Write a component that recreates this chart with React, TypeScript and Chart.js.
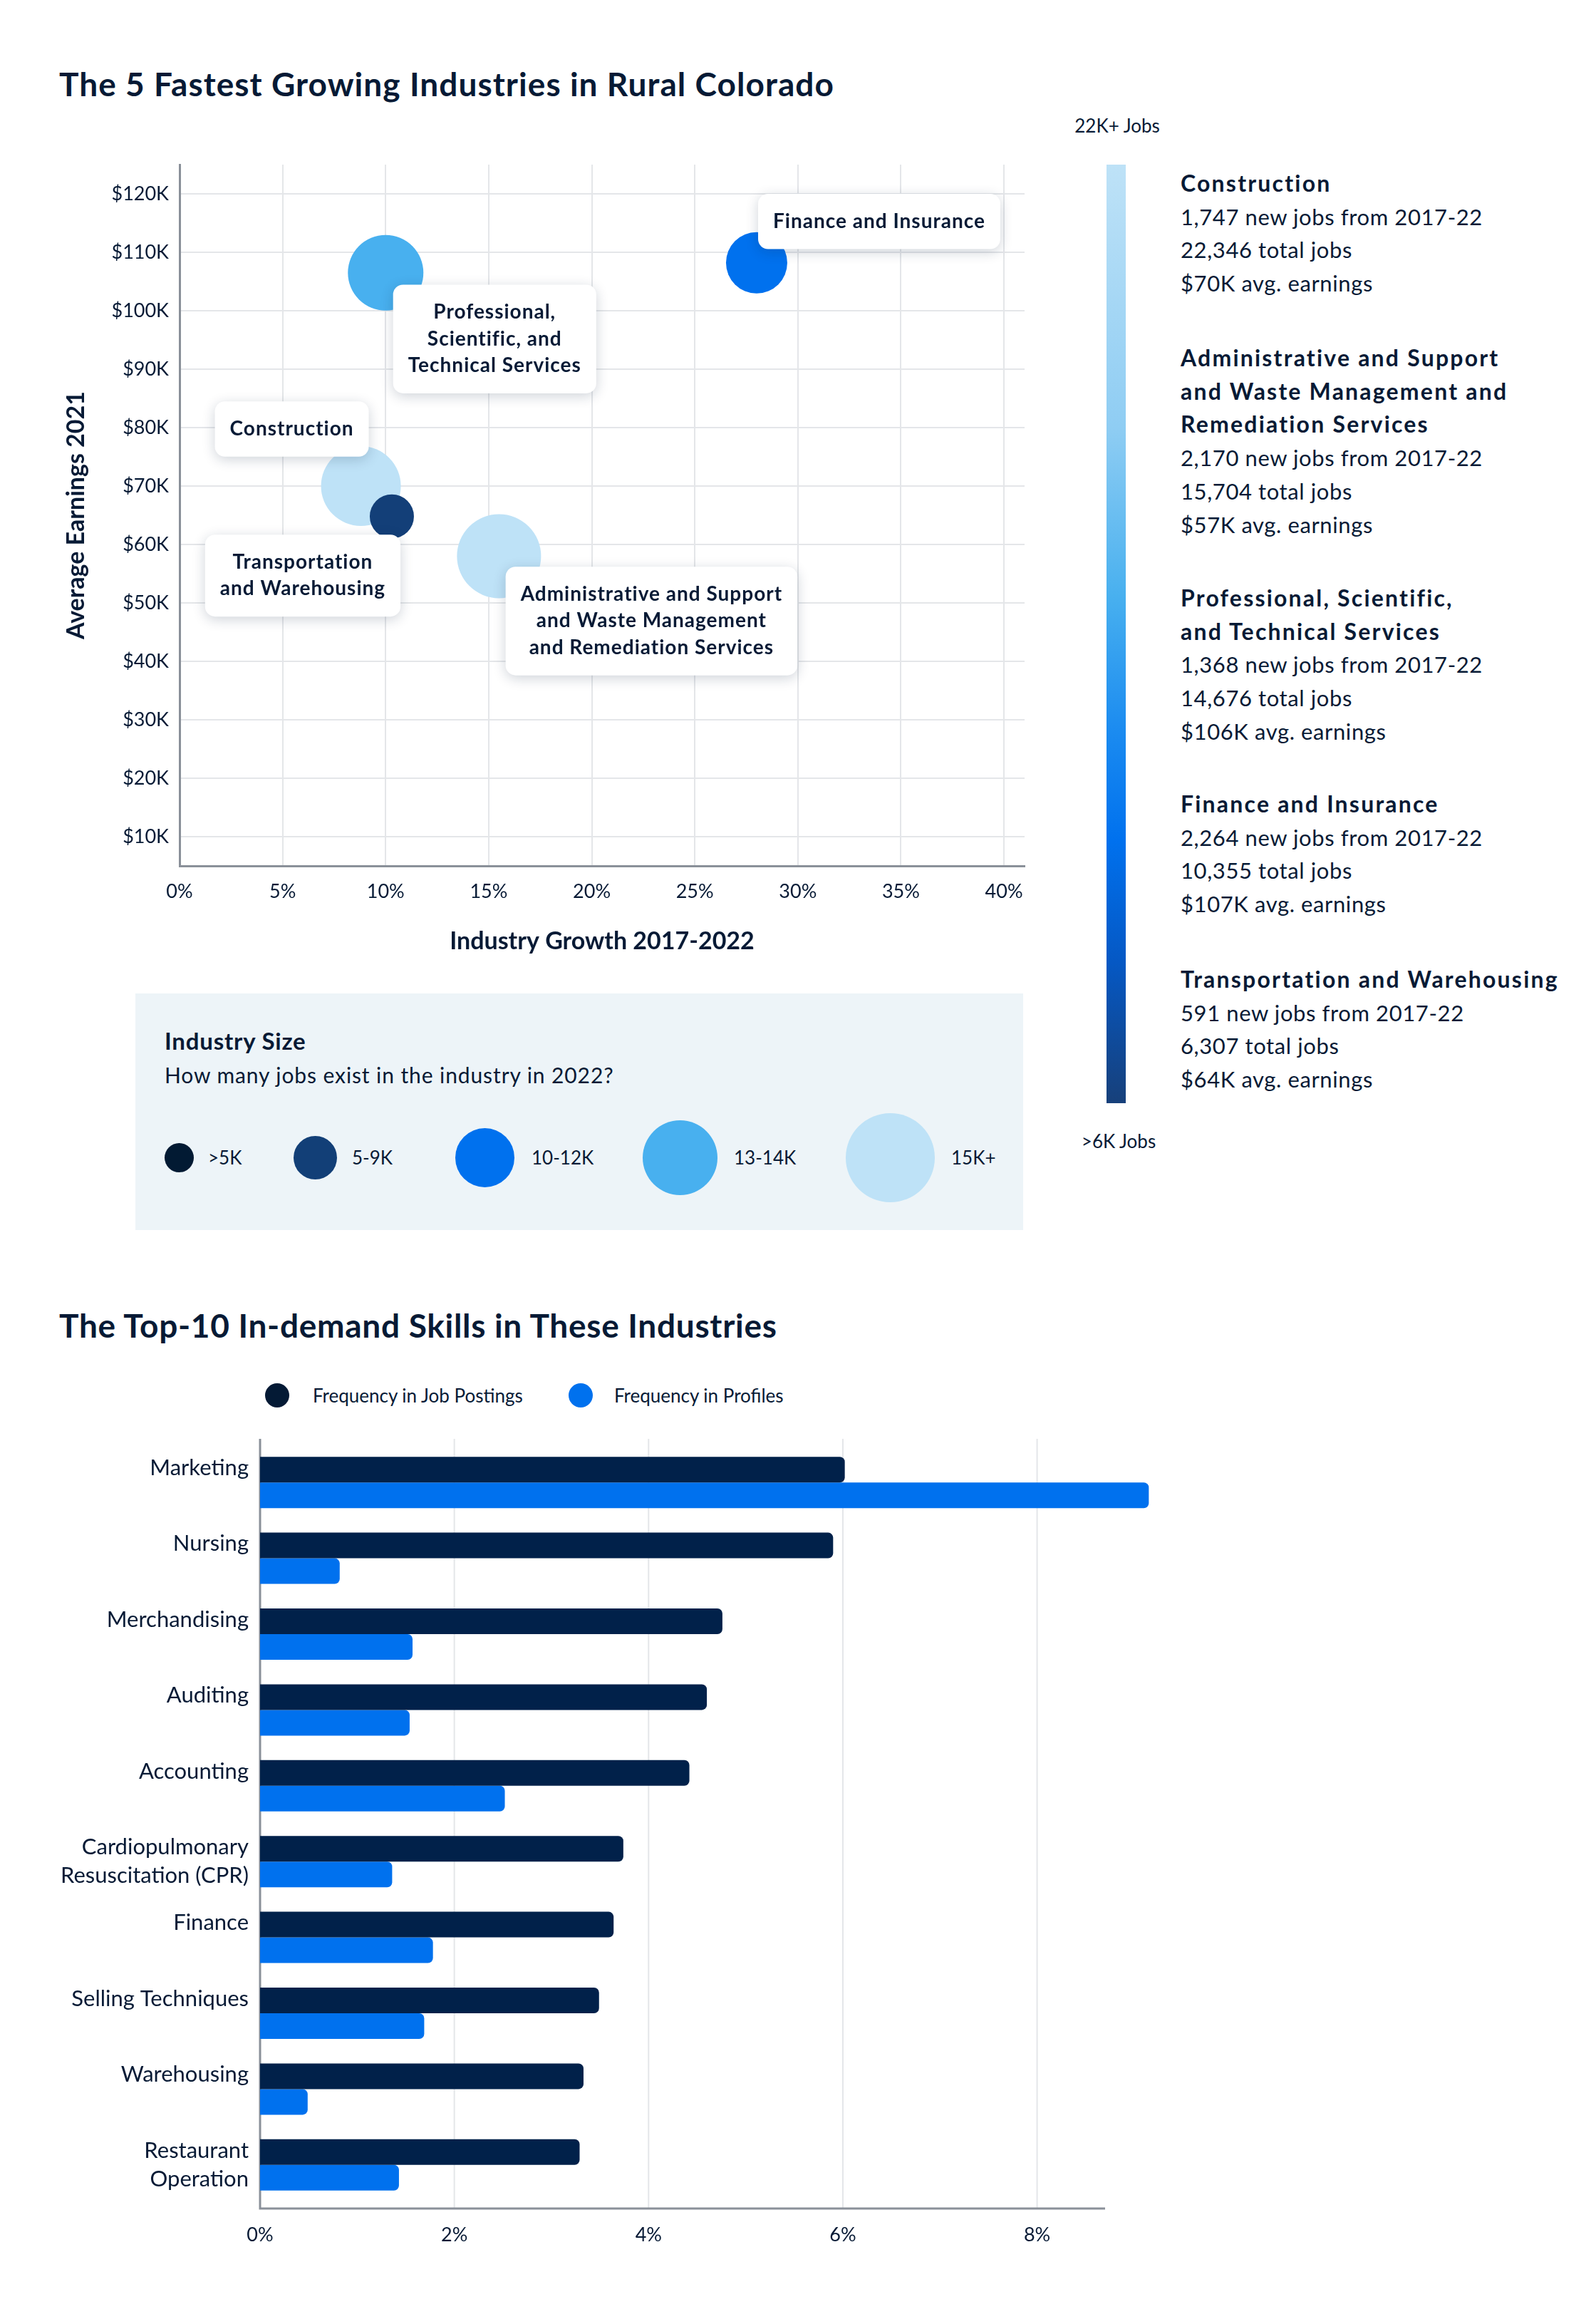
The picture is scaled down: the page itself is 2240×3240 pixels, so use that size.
import React, { useEffect, useRef } from 'react';
import { Chart, registerables } from 'chart.js';

Chart.register(...registerables);

// ---------------- DATA ----------------
const industries = [
  'Construction',
  'Administrative and Support and Waste Management and Remediation Services',
  'Professional, Scientific, and Technical Services',
  'Finance and Insurance',
  'Transportation and Warehousing',
];
const industryGrowthPct = [8.8, 15.5, 10.0, 28.0, 10.3];
const industryEarnings = [70000, 58000, 106500, 108200, 64800];
const newJobs = ['1,747', '2,170', '1,368', '2,264', '591'];
const totalJobs = ['22,346', '15,704', '14,676', '10,355', '6,307'];
const avgEarnings = ['$70K', '$57K', '$106K', '$107K', '$64K'];

const bubbleLabelLines = [
  ['Construction'],
  ['Administrative and Support', 'and Waste Management', 'and Remediation Services'],
  ['Professional,', 'Scientific, and', 'Technical Services'],
  ['Finance and Insurance'],
  ['Transportation', 'and Warehousing'],
];
const sideTitles = [
  ['Construction'],
  ['Administrative and Support', 'and Waste Management and', 'Remediation Services'],
  ['Professional, Scientific,', 'and Technical Services'],
  ['Finance and Insurance'],
  ['Transportation and Warehousing'],
];

const growthTicks = [0, 5, 10, 15, 20, 25, 30, 35, 40];
const earningsTicks = [10000, 20000, 30000, 40000, 50000, 60000, 70000, 80000, 90000, 100000, 110000, 120000];

const sizeBuckets = ['>5K', '5-9K', '10-12K', '13-14K', '15K+'];

const skills = [
  ['Marketing'],
  ['Nursing'],
  ['Merchandising'],
  ['Auditing'],
  ['Accounting'],
  ['Cardiopulmonary', 'Resuscitation (CPR)'],
  ['Finance'],
  ['Selling Techniques'],
  ['Warehousing'],
  ['Restaurant', 'Operation'],
];
const postingsFreq = [6.02, 5.9, 4.76, 4.6, 4.42, 3.74, 3.64, 3.49, 3.33, 3.29];
const profilesFreq = [9.15, 0.82, 1.57, 1.54, 2.52, 1.36, 1.78, 1.69, 0.49, 1.43];
const freqTicks = [0, 2, 4, 6, 8];

// ---------------- STYLE ----------------
const FONT = 'Lato, "Noto Sans", sans-serif';
const TEXT = '#071a35';
const GRID = '#e4e6e9';
const AXIS = '#8a9099';
const BUBBLE_COLORS = ['#bee2f7', '#bee2f7', '#48b0ef', '#0071ee', '#133f78'];
const BUBBLE_R = [56, 59, 53, 43, 31];
const LABEL_OFFSETS: [number, number][] = [
  [-97, -80],
  [214, 91],
  [153, 93],
  [172, -58],
  [-125, 83],
];
const BUCKET_COLORS = ['#021a33', '#123f77', '#0071ee', '#48b0ef', '#bee2f7'];
const BUCKET_R = [20.5, 30.5, 41.5, 52.5, 62.5];
const BUCKET_CX = [251, 442, 680, 954, 1249];
const BUCKET_TX = [292, 494, 746, 1030, 1335];
const DARK_BAR = '#01214a';
const BLUE_BAR = '#0071ee';
const AXIS_EXT = 8;

const bubbleLabelPlugin = {
  id: 'bubbleLabels',
  afterDatasetsDraw(chart: any) {
    const { ctx } = chart;
    const meta = chart.getDatasetMeta(0);
    const LH = 37.5;
    ctx.save();
    ctx.font = `bold 28px ${FONT}`;
    try {
      (ctx as any).letterSpacing = '1px';
    } catch (e) {}
    meta.data.forEach((pt: any, i: number) => {
      const lines = bubbleLabelLines[i];
      const off = LABEL_OFFSETS[i];
      const w = Math.max(...lines.map((l) => ctx.measureText(l).width)) + 42;
      const h = lines.length * LH + 40;
      const cx = pt.x + off[0];
      const cy = pt.y + off[1];
      ctx.save();
      ctx.shadowColor = 'rgba(16,36,66,0.20)';
      ctx.shadowBlur = 18;
      ctx.shadowOffsetY = 4;
      ctx.fillStyle = '#ffffff';
      ctx.beginPath();
      ctx.roundRect(cx - w / 2, cy - h / 2, w, h, 14);
      ctx.fill();
      ctx.restore();
      ctx.fillStyle = TEXT;
      ctx.textAlign = 'center';
      ctx.textBaseline = 'middle';
      lines.forEach((l, j) => {
        ctx.fillText(l, cx, cy - ((lines.length - 1) * LH) / 2 + j * LH);
      });
    });
    ctx.restore();
  },
};

// grid + axis lines for the bar chart, extended a little beyond the category band
const barAxesPlugin = {
  id: 'barAxes',
  beforeDatasetsDraw(chart: any) {
    const { ctx, chartArea: ca, scales } = chart;
    const x = scales.x;
    const top = ca.top - AXIS_EXT;
    const bottom = ca.bottom + AXIS_EXT;
    ctx.save();
    ctx.strokeStyle = GRID;
    ctx.lineWidth = 2;
    freqTicks.forEach((v) => {
      if (v === 0) return;
      const px = x.getPixelForValue(v);
      ctx.beginPath();
      ctx.moveTo(px, top);
      ctx.lineTo(px, bottom);
      ctx.stroke();
    });
    ctx.strokeStyle = AXIS;
    ctx.lineWidth = 3;
    ctx.beginPath();
    ctx.moveTo(ca.left, top);
    ctx.lineTo(ca.left, bottom);
    ctx.lineTo(ca.right, bottom);
    ctx.stroke();
    ctx.restore();
  },
};

function BubbleChart() {
  const ref = useRef<HTMLCanvasElement>(null);
  useEffect(() => {
    const chart = new Chart(ref.current as HTMLCanvasElement, {
      type: 'bubble',
      data: {
        datasets: [
          {
            data: industries.map((_, i) => ({ x: industryGrowthPct[i], y: industryEarnings[i], r: BUBBLE_R[i] })),
            backgroundColor: BUBBLE_COLORS,
            borderWidth: 0,
            hoverBorderWidth: 0,
            hoverRadius: 0,
            clip: false,
          } as any,
        ],
      },
      options: {
        responsive: false,
        animation: false,
        events: [],
        layout: { autoPadding: false, padding: { top: 31, right: 22, left: 0, bottom: 0 } },
        plugins: { legend: { display: false }, tooltip: { enabled: false } },
        scales: {
          x: {
            type: 'linear',
            min: 0,
            max: 41,
            afterBuildTicks: (axis: any) => {
              axis.ticks = growthTicks.map((v) => ({ value: v }));
            },
            afterFit: (s: any) => {
              s.height = 145;
              s.paddingLeft = 0;
              s.paddingRight = 0;
            },
            grid: { color: GRID, lineWidth: 2, drawTicks: false },
            border: { color: AXIS, width: 3 },
            ticks: {
              padding: 20,
              color: TEXT,
              font: { family: FONT, size: 27 },
              callback: (v: any) => `${v}%`,
              maxRotation: 0,
            },
            title: {
              display: true,
              text: 'Industry Growth 2017-2022',
              color: TEXT,
              font: { family: FONT, size: 34, weight: 'bold' },
              padding: { top: 0, bottom: 19 },
            },
          },
          y: {
            type: 'linear',
            min: 5000,
            max: 125000,
            afterBuildTicks: (axis: any) => {
              axis.ticks = earningsTicks.map((v) => ({ value: v }));
            },
            afterFit: (s: any) => {
              s.width = 212;
              s.paddingTop = 0;
              s.paddingBottom = 0;
            },
            grid: { color: GRID, lineWidth: 2, drawTicks: false },
            border: { color: AXIS, width: 3 },
            ticks: {
              padding: 15,
              color: TEXT,
              font: { family: FONT, size: 27 },
              callback: (v: any) => `$${Math.round(Number(v) / 1000)}K`,
            },
            title: {
              display: true,
              text: 'Average Earnings 2021',
              color: TEXT,
              font: { family: FONT, size: 34, weight: 'bold' },
              padding: { top: 47, bottom: 0 },
            },
          },
        },
      },
      plugins: [bubbleLabelPlugin],
    } as any);
    return () => chart.destroy();
  }, []);
  return (
    <canvas
      ref={ref}
      width={1420}
      height={1160}
      style={{ position: 'absolute', left: 40, top: 200, width: 1420, height: 1160 }}
    />
  );
}

function SkillsChart() {
  const ref = useRef<HTMLCanvasElement>(null);
  useEffect(() => {
    const chart = new Chart(ref.current as HTMLCanvasElement, {
      type: 'bar',
      data: {
        labels: skills.map((s) => (s.length === 1 ? [s[0], ''] : s)),
        datasets: [
          {
            label: 'Frequency in Job Postings',
            data: postingsFreq,
            backgroundColor: DARK_BAR,
            borderRadius: 7,
            borderSkipped: 'start',
            categoryPercentage: 0.6767,
            barPercentage: 1,
            clip: false,
          } as any,
          {
            label: 'Frequency in Profiles',
            data: profilesFreq,
            backgroundColor: BLUE_BAR,
            borderRadius: 7,
            borderSkipped: 'start',
            categoryPercentage: 0.6767,
            barPercentage: 1,
            clip: false,
          } as any,
        ],
      },
      options: {
        indexAxis: 'y',
        responsive: false,
        animation: false,
        events: [],
        layout: { autoPadding: false, padding: { top: 27, right: 89, left: 0, bottom: 0 } },
        plugins: { legend: { display: false }, tooltip: { enabled: false } },
        scales: {
          x: {
            type: 'linear',
            min: 0,
            max: 8.7,
            afterBuildTicks: (axis: any) => {
              axis.ticks = freqTicks.map((v) => ({ value: v }));
            },
            afterFit: (s: any) => {
              s.height = 109;
              s.paddingLeft = 0;
              s.paddingRight = 0;
            },
            grid: { display: false, drawTicks: false },
            border: { display: false },
            ticks: {
              padding: 29,
              color: TEXT,
              font: { family: FONT, size: 27 },
              callback: (v: any) => `${v}%`,
              maxRotation: 0,
            },
          },
          y: {
            afterFit: (s: any) => {
              s.width = 325;
              s.paddingTop = 0;
              s.paddingBottom = 0;
            },
            grid: { display: false, drawTicks: false },
            border: { display: false },
            ticks: {
              padding: 16,
              color: TEXT,
              font: { family: FONT, size: 31, lineHeight: 1.3 },
              autoSkip: false,
            },
          },
        },
      },
      plugins: [barAxesPlugin],
    } as any);
    return () => chart.destroy();
  }, []);
  return (
    <canvas
      ref={ref}
      width={1600}
      height={1200}
      style={{ position: 'absolute', left: 40, top: 2000, width: 1600, height: 1200 }}
    />
  );
}

const abs = (o: React.CSSProperties): React.CSSProperties => ({ position: 'absolute', ...o });

export default function App() {
  const blockTops = [234, 479, 816, 1105, 1351];
  return (
    <div
      style={{
        position: 'absolute',
        left: 0,
        top: 0,
        width: 2240,
        height: 3240,
        background: '#ffffff',
        fontFamily: FONT,
        color: TEXT,
        overflow: 'hidden',
      }}
    >
      <div
        style={abs({
          left: 83,
          top: 89,
          fontSize: 46,
          fontWeight: 700,
          lineHeight: '58px',
          whiteSpace: 'nowrap',
          letterSpacing: 1.05,
        })}
      >
        The 5 Fastest Growing Industries in Rural Colorado
      </div>

      <BubbleChart />

      {/* Industry size legend */}
      <div style={abs({ left: 190, top: 1394, width: 1246, height: 332, background: '#edf4f8' })} />
      <div
        style={abs({ left: 231, top: 1439, fontSize: 33, fontWeight: 700, lineHeight: '42px', whiteSpace: 'nowrap', letterSpacing: 0.8 })}
      >
        Industry Size
      </div>
      <div style={abs({ left: 231, top: 1487, fontSize: 30, lineHeight: '42px', whiteSpace: 'nowrap', letterSpacing: 0.9 })}>
        How many jobs exist in the industry in 2022?
      </div>
      {sizeBuckets.map((b, i) => (
        <React.Fragment key={b}>
          <div
            style={abs({
              left: BUCKET_CX[i] - BUCKET_R[i],
              top: 1624 - BUCKET_R[i],
              width: BUCKET_R[i] * 2,
              height: BUCKET_R[i] * 2,
              borderRadius: '50%',
              background: BUCKET_COLORS[i],
            })}
          />
          <div style={abs({ left: BUCKET_TX[i], top: 1607, fontSize: 26, lineHeight: '34px', whiteSpace: 'nowrap' })}>
            {b}
          </div>
        </React.Fragment>
      ))}

      {/* gradient size bar */}
      <div style={abs({ left: 1498, top: 160, width: 140, textAlign: 'center', fontSize: 26, lineHeight: '32px' })}>
        22K+ Jobs
      </div>
      <div
        style={abs({
          left: 1553,
          top: 231,
          width: 27,
          height: 1317,
          background:
            'linear-gradient(to bottom, #bee2f7 0%, #8fcdf3 28%, #48b0ef 46%, #1c8cf0 60%, #0071ee 72%, #0558c4 85%, #17407a 100%)',
        })}
      />
      <div style={abs({ left: 1500, top: 1585, width: 140, textAlign: 'center', fontSize: 26, lineHeight: '32px' })}>
        &gt;6K Jobs
      </div>

      {industries.map((ind, i) => (
        <div
          key={ind}
          style={abs({ left: 1657, top: blockTops[i], fontSize: 31, lineHeight: '46.7px', whiteSpace: 'nowrap', letterSpacing: 0.6 })}
        >
          {sideTitles[i].map((t) => (
            <div key={t} style={{ fontWeight: 700, fontSize: 32, letterSpacing: 2.2 }}>
              {t}
            </div>
          ))}
          <div>{newJobs[i]} new jobs from 2017-22</div>
          <div>{totalJobs[i]} total jobs</div>
          <div>{avgEarnings[i]} avg. earnings</div>
        </div>
      ))}

      <div
        style={abs({
          left: 83,
          top: 1831,
          fontSize: 46,
          fontWeight: 700,
          lineHeight: '58px',
          whiteSpace: 'nowrap',
          letterSpacing: 0.7,
        })}
      >
        The Top-10 In-demand Skills in These Industries
      </div>

      {/* bar legend */}
      <div style={abs({ left: 372, top: 1941, width: 34, height: 34, borderRadius: '50%', background: '#041a35' })} />
      <div style={abs({ left: 439, top: 1941, fontSize: 26, lineHeight: '34px', whiteSpace: 'nowrap' })}>
        Frequency in Job Postings
      </div>
      <div style={abs({ left: 798, top: 1941, width: 34, height: 34, borderRadius: '50%', background: BLUE_BAR })} />
      <div style={abs({ left: 862, top: 1941, fontSize: 26, lineHeight: '34px', whiteSpace: 'nowrap' })}>
        Frequency in Profiles
      </div>

      <SkillsChart />
    </div>
  );
}
